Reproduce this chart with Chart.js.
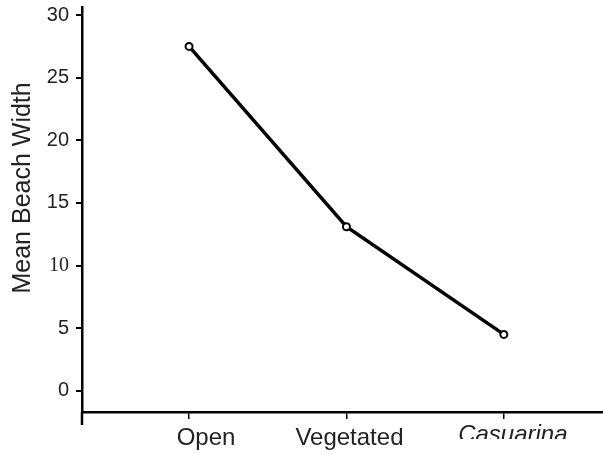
<!DOCTYPE html>
<html lang="en">
<head>
  <meta charset="UTF-8" />
  <title>Mean Beach Width</title>
  <script src="https://cdn.jsdelivr.net/npm/chart.js"></script>
  <style>
    html, body { margin: 0; padding: 0; background: #fff; }
    #wrap { width: 603px; height: 454px; }
  </style>
</head>
<body>
  <div id="wrap"><canvas id="chart"></canvas></div>

  <script>
    // values
    const categories = ['Open', 'Vegetated', 'Casuarina'];
    const beachWidth = [27.5, 13.1, 4.5];
    const yTicks = [0, 5, 10, 15, 20, 25, 30];
    const yTitle = 'Mean Beach Width';

    // the original labels sit a bit off their ticks
    const labelNudge = [17, 3, 9];

    const extras = {
      id: 'extras',
      afterDraw(chart) {
        const { ctx, chartArea } = chart;
        const x = chart.scales.x;
        const y = chart.scales.y;

        // y axis runs a little past the x axis
        ctx.save();
        ctx.strokeStyle = '#000';
        ctx.lineWidth = 2.5;
        ctx.beginPath();
        ctx.moveTo(chartArea.left, chartArea.bottom);
        ctx.lineTo(chartArea.left, chartArea.bottom + 13);
        ctx.stroke();

        // axis title
        ctx.fillStyle = '#222';
        ctx.font = '25px "Liberation Sans", Arial, sans-serif';
        ctx.textAlign = 'center';
        ctx.textBaseline = 'middle';
        ctx.translate(23, y.getPixelForValue(16.2));
        ctx.rotate(-Math.PI / 2);
        ctx.fillText(yTitle, 0, 0);
        ctx.restore();

        // category labels, last one italic and cut off at the bottom
        categories.forEach((c, i) => {
          const italic = c === 'Casuarina';
          ctx.save();
          if (italic) {
            ctx.beginPath();
            ctx.rect(0, 0, chart.width, chartArea.bottom + 27);
            ctx.clip();
          }
          ctx.fillStyle = '#222';
          ctx.font = (italic ? 'italic ' : '') + '24px "Liberation Sans", Arial, sans-serif';
          ctx.textAlign = 'center';
          ctx.textBaseline = 'alphabetic';
          ctx.fillText(c, x.getPixelForValue(i) + labelNudge[i], chartArea.bottom + (italic ? 30 : 33));
          ctx.restore();
        });
      }
    };

    new Chart(document.getElementById('chart'), {
      type: 'line',
      data: {
        datasets: [{
          data: categories.map((c, i) => ({ x: i, y: beachWidth[i] })),
          borderColor: '#000',
          borderWidth: 3.5,
          tension: 0,
          pointRadius: 3.5,
          pointBackgroundColor: '#fff',
          pointBorderColor: '#000',
          pointBorderWidth: 2
        }]
      },
      options: {
        responsive: true,
        maintainAspectRatio: false,
        animation: false,
        layout: { autoPadding: false, padding: { top: 7, right: 0, bottom: 0, left: 0 } },
        plugins: {
          legend: { display: false },
          tooltip: { enabled: false }
        },
        scales: {
          x: {
            type: 'linear',
            min: -0.68,
            max: 2.63,
            afterBuildTicks: s => { s.ticks = categories.map((c, i) => ({ value: i })); },
            ticks: { display: false },
            grid: { drawOnChartArea: false, drawTicks: true, tickLength: 7, color: '#000', lineWidth: 1.5 },
            border: { color: '#000', width: 2.5 },
            afterFit: s => {
              s.height = 42;
              s.paddingLeft = 0;
              s.paddingRight = 0;
            }
          },
          y: {
            min: -1.7,
            max: 30.65,
            afterBuildTicks: s => { s.ticks = yTicks.map(v => ({ value: v })); },
            ticks: {
              color: '#222',
              padding: 7,
              font: c => ({
                family: c.tick && c.tick.value === 10 ? '"Liberation Serif", serif' : '"Liberation Sans", Arial, sans-serif',
                size: 20
              })
            },
            grid: { drawOnChartArea: false, drawTicks: true, tickLength: 6, color: '#000', lineWidth: 2 },
            border: { color: '#000', width: 2.5 },
            afterFit: s => {
              s.width = 82;
              s.paddingTop = 0;
              s.paddingBottom = 0;
            }
          }
        }
      },
      plugins: [extras]
    });
  </script>
</body>
</html>
